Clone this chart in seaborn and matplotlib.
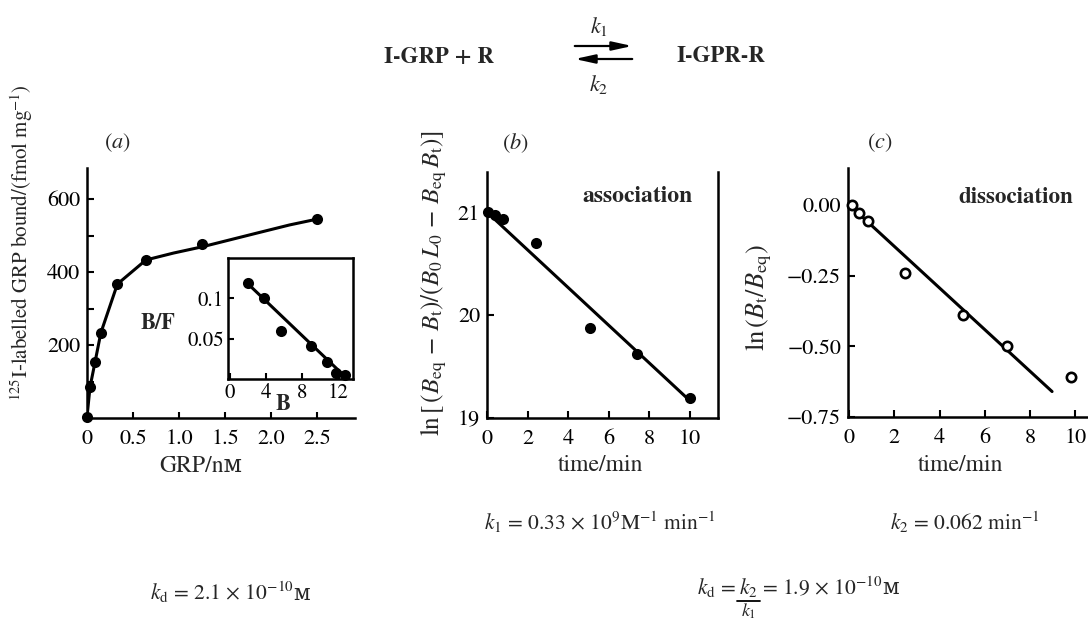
import numpy as np
import pandas as pd
import matplotlib
matplotlib.use("Agg")
import matplotlib.pyplot as plt
from matplotlib.patches import FancyArrowPatch
from matplotlib.lines import Line2D
import seaborn as sns

# (a) saturation binding
grp_conc = [0.0, 0.033, 0.087, 0.15, 0.33, 0.64, 1.25, 2.5]
grp_bound = [3, 85, 153, 233, 367, 433, 477, 545]
curve_conc = [0.0, 0.033, 0.087, 0.15, 0.33, 0.64, 0.94, 1.25, 1.85, 2.2, 2.5]
curve_bound = [3, 85, 153, 233, 367, 433, 452, 469, 507, 529, 545]

# (a) inset Scatchard plot
scat_b = [2.0, 3.8, 5.6, 9.0, 10.7, 11.7, 12.7]
scat_bf = [0.119, 0.100, 0.059, 0.041, 0.021, 0.0075, 0.005]
scat_fit_b = [2.0, 13.0]
scat_fit_bf = [0.118, 0.0]

# (b) association
assoc_t = [0.05, 0.4, 0.8, 2.4, 5.1, 7.4, 10.0]
assoc_y = [21.0, 20.97, 20.93, 20.70, 19.87, 19.62, 19.19]
assoc_fit_t = [0.0, 10.0]
assoc_fit_y = [21.0, 19.17]

# (c) dissociation
diss_t = [0.13, 0.44, 0.84, 2.48, 5.04, 6.99, 9.82]
diss_y = [0.0, -0.028, -0.057, -0.24, -0.389, -0.499, -0.608]
diss_fit_t = [0.0, 8.98]
diss_fit_y = [0.0, -0.66]

sns.set_theme(style="ticks")
plt.rcParams["font.family"] = ["STIXGeneral", "DejaVu Serif", "DejaVu Sans"]
plt.rcParams["mathtext.fontset"] = "stix"
plt.rcParams["axes.linewidth"] = 1.8
plt.rcParams["xtick.direction"] = "in"
plt.rcParams["ytick.direction"] = "in"
plt.rcParams["xtick.major.width"] = 1.5
plt.rcParams["ytick.major.width"] = 1.5
plt.rcParams["xtick.major.size"] = 5
plt.rcParams["ytick.major.size"] = 5
plt.rcParams["xtick.major.pad"] = 8
plt.rcParams["ytick.major.pad"] = 5
plt.rcParams["xtick.labelsize"] = 16
plt.rcParams["ytick.labelsize"] = 16
plt.rcParams["axes.labelsize"] = 17
plt.rcParams["axes.edgecolor"] = "black"
plt.rcParams["xtick.color"] = "black"
plt.rcParams["ytick.color"] = "black"

W, H = 1088, 624
fig = plt.figure(figsize=(W / 100, H / 100), dpi=100)
renderer = fig.canvas.get_renderer()


def px_axes(left, right, top, bottom):
    return fig.add_axes([left / W, 1 - bottom / H, (right - left) / W, (bottom - top) / H])


def fx(x):
    return x / W


def fy(y):
    return 1 - y / H


def right_px(t):
    return t.get_window_extent(renderer).x1


dot = dict(color="black", s=64, edgecolor="black", linewidth=0, zorder=3)
fitline = dict(color="black", linewidth=2.2)

# ---- panel (a)
ax_a = px_axes(87, 355, 168, 418)
sns.lineplot(x=curve_conc, y=curve_bound, ax=ax_a, **fitline)
sns.scatterplot(x=grp_conc, y=grp_bound, ax=ax_a, clip_on=False, **dot)
ax_a.set_xlim(0, 2.91)
ax_a.set_ylim(0, 685)
ax_a.set_yticks([100, 200, 300, 400, 500, 600], ["", "200", "", "400", "", "600"])
ax_a.set_xticks([0, 0.5, 1.0, 1.5, 2.0, 2.5], ["0", "0.5", "1.0", "1.5", "2.0", "2.5"])
ax_a.tick_params(axis="x", length=4)
sns.despine(ax=ax_a)
ax_a.set_xlabel("GRP/nᴍ")
ax_a.xaxis.set_label_coords(0.425, -0.15)
ax_a.set_ylabel(r"$^{125}$I-labelled GRP bound/(fmol mg$^{-1}$)", fontsize=15)
ax_a.yaxis.set_label_coords(-0.195, 0.70)

# inset
ax_in = px_axes(228, 353, 258, 379)
sns.lineplot(x=scat_fit_b, y=scat_fit_bf, ax=ax_in, **fitline)
sns.scatterplot(x=scat_b, y=scat_bf, ax=ax_in, clip_on=False, **dot)
ax_in.set_xlim(-0.2, 13.6)
ax_in.set_ylim(0, 0.15)
ax_in.set_xticks([0, 4, 8, 12], ["0", "4", "8", "12"])
ax_in.set_yticks([0.05, 0.1], ["0.05", "0.1"])
ax_in.tick_params(labelsize=15, length=4, pad=3)
ax_in.set_facecolor("white")
for s in ax_in.spines.values():
    s.set_linewidth(1.8)
fig.text(fx(158), fy(323), "B/F", fontsize=16, fontweight="bold", ha="center", va="center")
fig.text(fx(283), fy(404), "B", fontsize=16, fontweight="bold", ha="center", va="center")

# ---- panel (b)
ax_b = px_axes(487, 718, 172, 418)
sns.lineplot(x=assoc_fit_t, y=assoc_fit_y, ax=ax_b, **fitline)
sns.scatterplot(x=assoc_t, y=assoc_y, ax=ax_b, clip_on=False, **dot)
ax_b.set_xlim(0, 11.4)
ax_b.set_ylim(19, 21.39)
ax_b.set_yticks([19, 20, 21])
ax_b.set_xticks([0, 2, 4, 6, 8, 10])
ax_b.spines["top"].set_visible(False)
ax_b.set_xlabel("time/min")
ax_b.xaxis.set_label_coords(0.49, -0.15)
ax_b.set_ylabel(r"ln$\,$[$\,$($B_{\rm eq}\,-\,B_{\rm t}$)/($B_0\,L_0\,-\,B_{\rm eq}\,B_{\rm t}$)]",
                fontsize=18)
ax_b.yaxis.set_label_coords(-0.165, 0.55)
ax_b.text(0.65, 0.9, "association", transform=ax_b.transAxes, fontsize=17,
          fontweight="bold", ha="center", va="center")

# ---- panel (c)
ax_c = px_axes(848, 1088, 168, 417)
sns.lineplot(x=diss_fit_t, y=diss_fit_y, ax=ax_c, **fitline)
sns.scatterplot(x=diss_t, y=diss_y, ax=ax_c, color="white", s=45, edgecolor="black",
                linewidth=1.9, zorder=3, clip_on=False)
ax_c.set_xlim(-0.05, 10.57)
ax_c.set_ylim(-0.75, 0.13)
ax_c.set_yticks([0.0, -0.25, -0.5, -0.75], ["0.00", "\u22120.25", "\u22120.50", "\u22120.75"])
ax_c.set_xticks([0, 2, 4, 6, 8, 10])
sns.despine(ax=ax_c)
ax_c.set_xlabel("time/min")
ax_c.xaxis.set_label_coords(0.47, -0.15)
ax_c.set_ylabel(r"ln$\,$($B_{\rm t}/B_{\rm eq}$)", fontsize=19)
ax_c.yaxis.set_label_coords(-0.31, 0.48)
ax_c.text(0.70, 0.88, "dissociation", transform=ax_c.transAxes, fontsize=16.5,
          fontweight="bold", ha="center", va="center")

# panel letters
fig.text(fx(117), fy(143), r"$(a)$", fontsize=16, ha="center", va="center")
fig.text(fx(515), fy(143), r"$(b)$", fontsize=16, ha="center", va="center")
fig.text(fx(880), fy(143), r"$(c)$", fontsize=16, ha="center", va="center")

# reaction scheme
fig.text(fx(439), fy(57), "I-GRP + R", fontsize=16.5, fontweight="bold", ha="center", va="center")
fig.text(fx(721), fy(57), "I-GPR-R", fontsize=16.5, fontweight="bold", ha="center", va="center")
fig.text(fx(599), fy(26), r"$k_1$", fontsize=16, ha="center", va="center")
fig.text(fx(599), fy(84), r"$k_2$", fontsize=16, ha="center", va="center")
arrow = dict(arrowstyle="-|>,head_length=1.0,head_width=0.22", color="black", lw=1.6)
fig.add_artist(FancyArrowPatch((fx(572), fy(46)), (fx(635), fy(46)),
                               transform=fig.transFigure, mutation_scale=12, **arrow))
fig.add_artist(FancyArrowPatch((fx(635), fy(59)), (fx(572), fy(59)),
                               transform=fig.transFigure, mutation_scale=12, **arrow))

# rate constants
fig.text(fx(600), fy(522), r"$k_1$ = 0.33 × 10$^9$M$^{-1}$ min$^{-1}$", fontsize=15.5,
         ha="center", va="center")
fig.text(fx(965), fy(522), r"$k_2$ = 0.062 min$^{-1}$", fontsize=15.5, ha="center", va="center")

# small-capital molar unit is drawn right after the mathtext part (mathtext font lacks it)
base = fy(594)
kd_a = fig.text(fx(150), fy(600), r"$k_{\rm d}$ = 2.1 × 10$^{-10}$", fontsize=15.5,
                ha="left", va="baseline")
fig.text(right_px(kd_a) / W, fy(600), "ᴍ", fontsize=15.5, ha="left", va="baseline")

# k_d = k2 / k1 with the fraction hanging below the text line, as in the original
kd_b1 = fig.text(fx(697), base, r"$k_{\rm d}$ = ", fontsize=15.5, ha="left", va="baseline")
x_k2 = right_px(kd_b1) + 2
kd_b2 = fig.text(x_k2 / W, base, r"$k_2$", fontsize=15.5, ha="left", va="baseline")
x_end = right_px(kd_b2)
kd_b3 = fig.text((x_end + 4) / W, base, r"= 1.9 × 10$^{-10}$", fontsize=15.5,
                 ha="left", va="baseline")
fig.text(right_px(kd_b3) / W, base, "ᴍ", fontsize=15.5, ha="left", va="baseline")
fig.add_artist(Line2D([(x_k2 - 2) / W, (x_end + 2) / W], [fy(601), fy(601)],
                      color="black", lw=1.3, transform=fig.transFigure))
fig.text((x_k2 + x_end) / 2 / W, fy(617), r"$k_1$", fontsize=13, ha="center", va="baseline")

fig.savefig("out.png", dpi=100)
